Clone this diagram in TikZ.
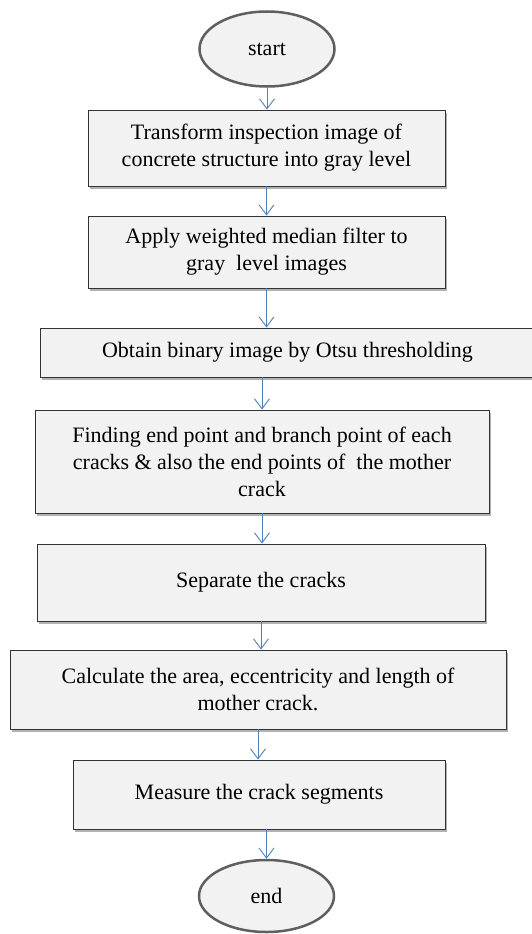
\documentclass[tikz,border=0pt]{standalone}
\usepackage{fontspec}
\setmainfont{Liberation Serif}
\usetikzlibrary{shapes.geometric,arrows.meta,shadows}
\definecolor{boxfill}{HTML}{F2F2F2}
\definecolor{arrowblue}{HTML}{4F81BD}
\definecolor{rimgray}{HTML}{5F5F5F}

\begin{document}
\begin{tikzpicture}[x=1pt, y=-1pt,
    every node/.style={font=\fontsize{22}{27}\selectfont, align=center, fill=boxfill, inner sep=0pt},
    process/.style={draw=black!80, line width=0.9pt, drop shadow={shadow xshift=2pt, shadow yshift=-3pt, fill=black, opacity=0.3}},
    terminal/.style={ellipse, draw=rimgray, line width=2.5pt, minimum width=135pt},
    flow/.style={draw=arrowblue, line width=0.9pt, -{Straight Barb[length=10pt,width=15pt]}}]
    \useasboundingbox (0,0) rectangle (531,934);

    \node[terminal, minimum height=75pt] (start) at (267,49) {start};
    \node[process, minimum width=357pt, minimum height=76pt] (gray) at (266.5,148) {Transform inspection image of\\ concrete structure into gray level};
    \node[process, minimum width=357pt, minimum height=72pt] (median) at (266.5,252) {Apply weighted median filter to\\ gray\ \ level images};
    \node[process, minimum width=495pt, minimum height=49pt] (otsu) at (287.5,352.5) {Obtain binary image by Otsu thresholding};
    \node[process, minimum width=454pt, minimum height=103pt] (points) at (262,461.5) {Finding end point and branch point of each\\ cracks \& also the end points of\ \ the mother\\ crack};
    \node[process, minimum width=448pt, minimum height=77pt] (separate) at (261,582.5) {Separate the cracks};
    \node[process, minimum width=496pt, minimum height=79pt] (calc) at (258,689.5) {Calculate the area, eccentricity and length of\\ mother crack.};
    \node[process, minimum width=372pt, minimum height=69pt] (measure) at (259,794.5) {Measure the crack segments};
    \node[terminal, minimum height=72pt] (end) at (266.5,896) {end};

    \draw[flow] (start.south) -- (start.south |- gray.north);
    \draw[flow] (gray.south) -- (gray.south |- median.north);
    \draw[flow] (median.south) -- (median.south |- otsu.north);
    \draw[flow] (points.north |- otsu.south) -- (points.north);
    \draw[flow] (points.south) -- (points.south |- separate.north);
    \draw[flow] (separate.south) -- (separate.south |- calc.north);
    \draw[flow] (calc.south) -- (calc.south |- measure.north);
    \draw[flow] (end.north |- measure.south) -- (end.north);
\end{tikzpicture}
\end{document}
